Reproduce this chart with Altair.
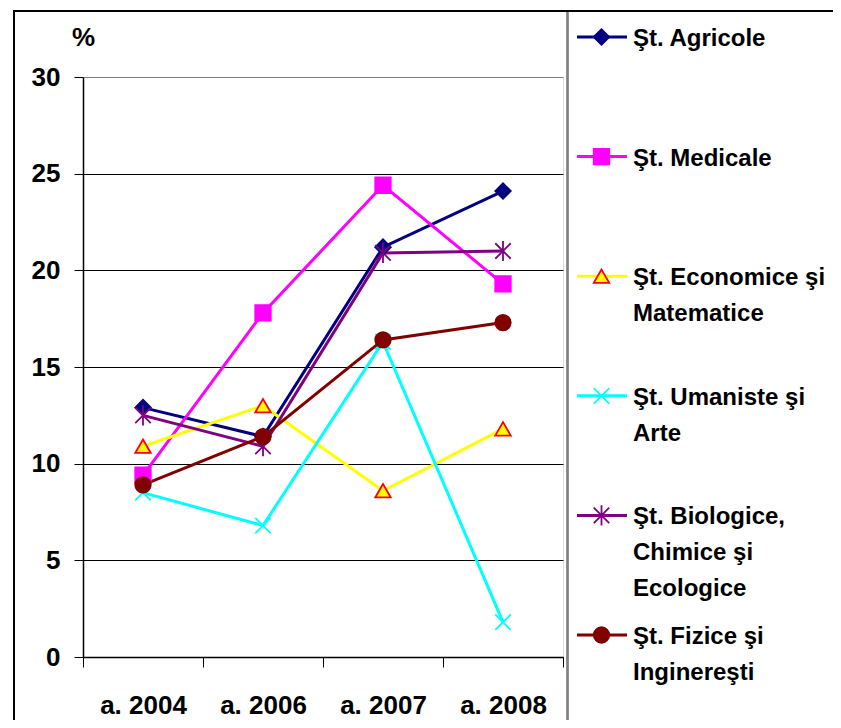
import altair as alt
import pandas as pd

years = ["a. 2004", "a. 2006", "a. 2007", "a. 2008"]
series = [
    "Şt. Agricole",
    "Şt. Medicale",
    "Şt. Economice şi Matematice",
    "Şt. Umaniste şi Arte",
    "Şt. Biologice, Chimice şi Ecologice",
    "Şt. Fizice şi Inginereşti",
]
legend_labels = [
    "Şt. Agricole",
    "Şt. Medicale",
    "Şt. Economice şi\nMatematice",
    "Şt. Umaniste şi\nArte",
    "Şt. Biologice,\nChimice şi\nEcologice",
    "Şt. Fizice şi\nInginereşti",
]
agricole = [12.9, 11.4, 21.2, 24.1]
medicale = [9.4, 17.8, 24.4, 19.3]
economice = [10.9, 13.0, 8.6, 11.8]
umaniste = [8.5, 6.8, 16.3, 1.8]
biologice = [12.5, 10.9, 20.9, 21.0]
fizice = [8.9, 11.4, 16.4, 17.3]
y_ticks = [0, 5, 10, 15, 20, 25, 30]

line_colors = ["#000080", "#FF00FF", "#FFFF00", "#00FFFF", "#800080", "#800000"]
fill_colors = ["#000080", "#FF00FF", "#FFFF00", "none", "none", "#800000"]
stroke_colors = ["#000080", "#FF00FF", "#FF0000", "#00FFFF", "#800080", "#800000"]
shapes = [
    "diamond",
    "square",
    "triangle-up",
    "M-1,-1L1,1M-1,1L1,-1",
    "M-1,-1L1,1M-1,1L1,-1M0,-1.3L0,1.3",
    "circle",
]

values = [agricole, medicale, economice, umaniste, biologice, fizice]
rows = []
for s, vals in zip(series, values):
    for yr, v in zip(years, vals):
        rows.append({"year": yr, "value": v, "series": s})
df = pd.DataFrame(rows)
leg_df = pd.DataFrame({"series": series, "label": legend_labels})

FONT = "Liberation Sans"

color_scale = alt.Scale(domain=series, range=line_colors)
fill_scale = alt.Scale(domain=series, range=fill_colors)
stroke_scale = alt.Scale(domain=series, range=stroke_colors)
shape_scale = alt.Scale(domain=series, range=shapes)

x_enc = alt.X(
    "year:N",
    sort=years,
    bandPosition=0.5,
    scale=alt.Scale(type="band", paddingInner=0, paddingOuter=0),
    axis=alt.Axis(
        title=None, labelAngle=0, grid=False, tickBand="extent", tickSize=10,
        labelPadding=25, labelFont=FONT, labelFontSize=26, labelFontWeight="bold",
        labelColor="black", domainColor="black", tickColor="black", domainWidth=1.5,
    ),
)
y_enc = alt.Y(
    "value:Q",
    scale=alt.Scale(domain=[0, 30], nice=False, zero=True),
    axis=alt.Axis(
        values=y_ticks, grid=True,
        gridColor={"condition": {"test": "datum.value === 30", "value": "#808080"}, "value": "black"},
        gridWidth=1, tickSize=9, labelPadding=14, labelFont=FONT, labelFontSize=26,
        labelFontWeight="bold", labelColor="black", domainColor="black", tickColor="black",
        domainWidth=1.5, title="%", titleAngle=0, titleX=0, titleY=-40, titleAlign="center",
        titleBaseline="middle", titleFont=FONT, titleFontSize=26, titleFontWeight="bold",
        titleColor="black",
    ),
)

base = alt.Chart(df)

legend_box = alt.Chart(leg_df).mark_rect(fill=None, stroke="#808080", strokeWidth=1.5).encode(
    x=alt.value(484.5), x2=alt.value(900), y=alt.value(-66), y2=alt.value(650)
)
frame = alt.Chart(leg_df).mark_rect(fill=None, stroke="black", strokeWidth=2).encode(
    x=alt.value(-69), x2=alt.value(900), y=alt.value(-66), y2=alt.value(760)
)

lines = base.mark_line(strokeWidth=3).encode(
    x=x_enc, y=y_enc,
    color=alt.Color("series:N", scale=color_scale, legend=None),
)
points = base.mark_point(filled=True, size=240, strokeWidth=1.8, opacity=1).encode(
    x=x_enc, y=y_enc,
    shape=alt.Shape("series:N", scale=shape_scale, legend=None),
    fill=alt.Fill("series:N", scale=fill_scale, legend=None),
    stroke=alt.Stroke("series:N", scale=stroke_scale, legend=None),
)

main = alt.layer(legend_box, frame, lines, points)

leg_y = alt.Y(
    "series:N", sort=series,
    scale=alt.Scale(type="point", domain=series, range=[-40, 558], padding=0),
    axis=None,
)
leg_rule = alt.Chart(leg_df).mark_rule(strokeWidth=3).encode(
    x=alt.value(494), x2=alt.value(544), y=leg_y,
    color=alt.Color("series:N", scale=color_scale, legend=None),
)
leg_pts = alt.Chart(leg_df).mark_point(filled=True, size=240, strokeWidth=1.8, opacity=1).encode(
    x=alt.value(518.5), y=leg_y,
    shape=alt.Shape("series:N", scale=shape_scale, legend=None),
    fill=alt.Fill("series:N", scale=fill_scale, legend=None),
    stroke=alt.Stroke("series:N", scale=stroke_scale, legend=None),
)
leg_text = alt.Chart(leg_df).mark_text(
    align="left", baseline="top", dy=-10, lineBreak="\n", lineHeight=36,
    font=FONT, fontSize=24, fontWeight="bold", color="black",
).encode(x=alt.value(550), y=leg_y, text="label:N")

legend = alt.layer(leg_rule, leg_pts, leg_text)

chart = alt.layer(main, legend).resolve_scale(y="independent").properties(
    width=480, height=580,
    autosize=alt.AutoSizeParams(type="none"),
    padding={"left": 75, "top": 69, "right": 270, "bottom": 63},
).configure_view(stroke="#808080", strokeWidth=1.5).configure(background="white")

chart.save("out.html", embed_options={"renderer": "svg", "actions": False})
